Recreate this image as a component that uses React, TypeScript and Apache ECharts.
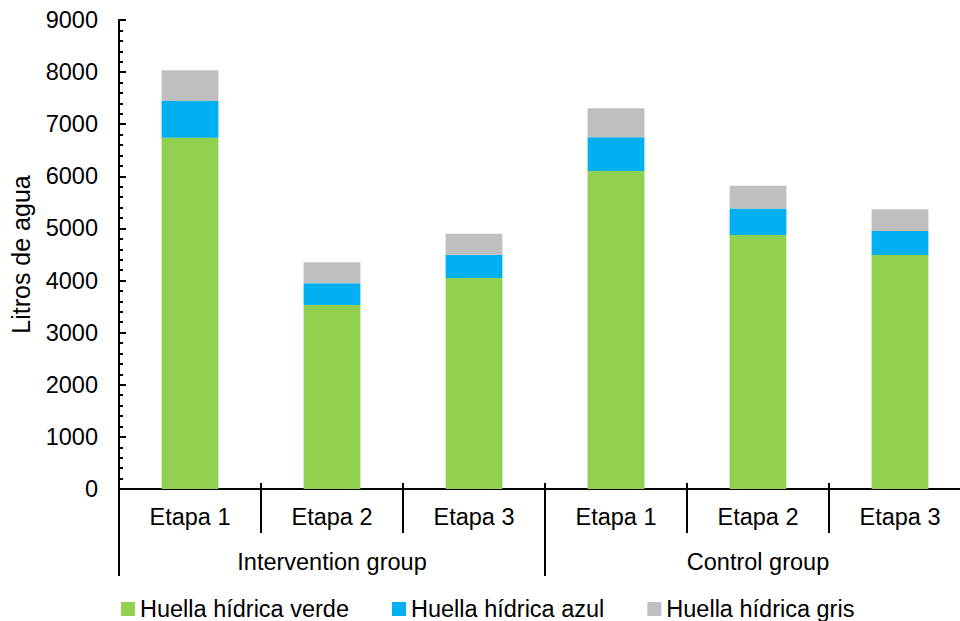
import React, { useEffect, useRef } from "react";
import * as echarts from "echarts";

// Stages per group, group names and water footprint components (litres)
const stages = ["Etapa 1", "Etapa 2", "Etapa 3", "Etapa 1", "Etapa 2", "Etapa 3"];
const groups = ["Intervention group", "Control group"];
const seriesNames = ["Huella hídrica verde", "Huella hídrica azul", "Huella hídrica gris"];
const verde = [6740, 3530, 4050, 6100, 4875, 4490];
const azul = [705, 420, 445, 650, 510, 460];
const gris = [590, 400, 405, 555, 435, 420];
const yTicks = { min: 0, max: 9000, interval: 1000 };

const FONT = "'Liberation Sans', Arial, sans-serif";
const FS = 23.5;
const colors = ["#92D050", "#00B0F0", "#BFBFBF"];

export default function App() {
  const ref = useRef<HTMLDivElement>(null);

  useEffect(() => {
    if (!ref.current) return;
    const chart = echarts.init(ref.current, null, { renderer: "svg" });
    const stageKeys = stages.map((s, i) => `${s}#${i}`);
    const values = [verde, azul, gris];

    chart.setOption({
      animation: false,
      textStyle: { fontFamily: FONT },
      // plot area runs slightly past the visible frame on the right
      grid: { left: 117, top: 20, width: 854, height: 469, containLabel: false },
      legend: {
        left: 116,
        top: 592,
        itemWidth: 14,
        itemHeight: 14,
        itemGap: 43,
        icon: "rect",
        textStyle: { fontFamily: FONT, fontSize: FS, lineHeight: 24, color: "#000" },
        data: seriesNames,
      },
      xAxis: [
        {
          type: "category",
          data: stageKeys,
          position: "bottom",
          axisLine: { lineStyle: { color: "#000", width: 2 } },
          axisTick: { show: true, inside: true, alignWithLabel: true, length: 6, lineStyle: { color: "#000", width: 2 } },
          axisLabel: {
            interval: 0,
            margin: 16,
            fontSize: FS,
            lineHeight: 24,
            color: "#000",
            fontFamily: FONT,
            formatter: (v: string) => v.split("#")[0],
          },
        },
        {
          type: "category",
          data: stageKeys,
          position: "bottom",
          offset: -6,
          axisLine: { show: false },
          axisTick: { show: true, interval: 0, length: 50, lineStyle: { color: "#000", width: 2 } },
          axisLabel: { show: false },
        },
        {
          type: "category",
          data: groups,
          position: "bottom",
          offset: -6,
          axisLine: { show: false },
          axisTick: { show: true, interval: 0, length: 93, lineStyle: { color: "#000", width: 2 } },
          axisLabel: { interval: 0, margin: 67, fontSize: FS, lineHeight: 24, color: "#000", fontFamily: FONT },
        },
      ],
      yAxis: {
        type: "value",
        min: yTicks.min,
        max: yTicks.max,
        interval: yTicks.interval,
        name: "Litros de agua",
        nameLocation: "middle",
        nameRotate: 90,
        nameGap: 86,
        nameTextStyle: { fontSize: 25, lineHeight: 25, color: "#000", fontFamily: FONT },
        axisLine: { show: true, lineStyle: { color: "#000", width: 2 } },
        axisTick: { show: true, inside: true, length: 7, lineStyle: { color: "#000", width: 2 } },
        minorTick: { show: true, splitNumber: 5, length: 4, lineStyle: { color: "#000", width: 2 } },
        splitLine: { show: false },
        axisLabel: {
          margin: 21,
          fontSize: FS,
          color: "#000",
          fontFamily: FONT,
          formatter: (v: number) => String(v),
        },
      },
      series: seriesNames.map((name, i) => ({
        name,
        type: "bar",
        stack: "total",
        xAxisIndex: 0,
        barWidth: "40%",
        itemStyle: { color: colors[i] },
        data: values[i],
      })),
    });

    return () => chart.dispose();
  }, []);

  return (
    <div
      style={{
        position: "fixed",
        left: 0,
        top: 0,
        width: 960,
        height: 621,
        overflow: "hidden",
        background: "#fff",
      }}
    >
      <div ref={ref} style={{ width: 990, height: 621 }} />
    </div>
  );
}
